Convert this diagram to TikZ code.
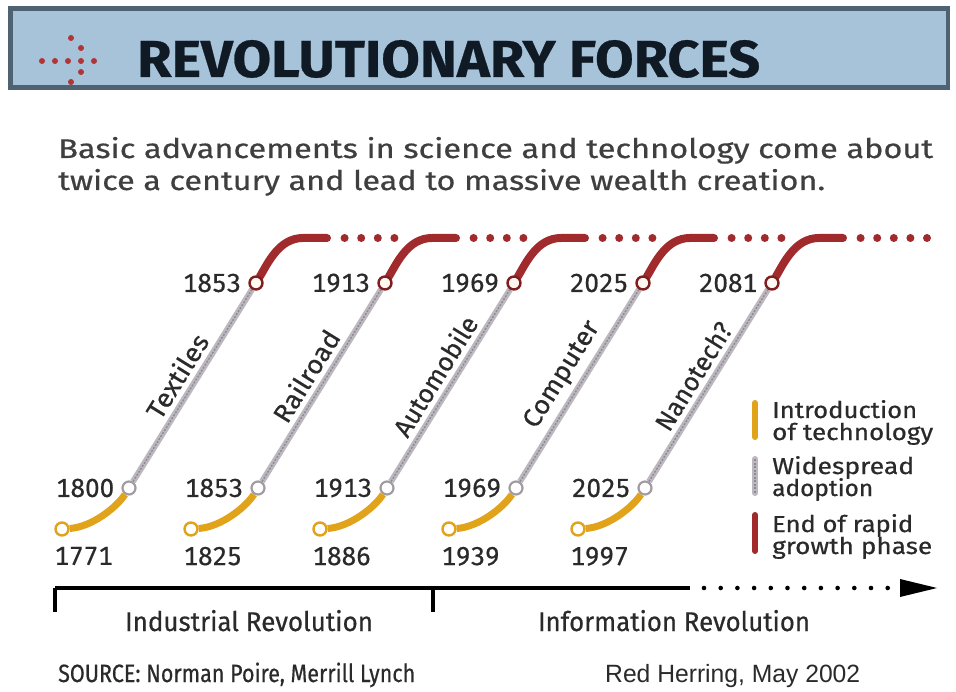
\documentclass[tikz,border=0pt]{standalone}
\usepackage{fontspec}
\setmainfont[Numbers={Monospaced,Lining}, FakeBold=0.5]{Fira Sans}
\newfontfamily\rhfont{Liberation Sans}
\usepackage{graphicx}
\usetikzlibrary{positioning}
\pgfdeclarelayer{back}
\pgfdeclarelayer{bg}
\pgfsetlayers{back,bg,main}
\definecolor{hdrfill}{HTML}{A7C3DA}
\definecolor{hdrline}{HTML}{4F6272}
\definecolor{ttl}{HTML}{101A24}
\definecolor{txt}{HTML}{2A2A2A}
\definecolor{ylw}{HTML}{E0A31A}
\definecolor{rd}{HTML}{A02A2C}
\definecolor{rdd}{HTML}{7E1E20}
\definecolor{gry}{HTML}{BDB8BF}
\definecolor{gryd}{HTML}{8E8A92}
\definecolor{icon}{HTML}{B03538}
\newsavebox\fxbox
\newlength\fxlen
\newcommand\fitx[2]{\sbox\fxbox{#2}\setlength\fxlen{\wd\fxbox}\pgfmathsetmacro\fxr{#1/\fxlen}\scalebox{\fxr}[1]{\usebox\fxbox}}
\tikzset{
  yr/.style={font=\fontsize{26}{26}\selectfont, text=txt, inner sep=0pt},
  lbl/.style={font=\fontsize{26}{26}\selectfont, text=txt, inner sep=0pt},
  leg/.style={font=\fontsize{23}{23}\selectfont, text=txt, inner sep=0pt, anchor=base west},
  tl/.style={font=\fontsize{27}{27}\selectfont, text=txt, inner sep=0pt, anchor=base},
  desc/.style={font=\fontsize{27}{27}\selectfont, text=txt!90!white, inner sep=0pt, anchor=base west},
  startc/.style={circle, draw=ylw, fill=white, line width=2.4pt, minimum size=13pt, inner sep=0pt},
  midc/.style={circle, draw=gry!85!black, fill=white, line width=2.2pt, minimum size=13pt, inner sep=0pt},
  topc/.style={circle, draw=rdd, fill=white!94!orange, line width=2.4pt, minimum size=13pt, inner sep=0pt},
  yline/.style={draw=ylw, line width=7pt},
  gline/.style={draw=gry, line width=6pt},
  gtex/.style={draw=gryd, line width=1.4pt, dash pattern=on 2pt off 1.5pt},
  rline/.style={draw=rd, line width=8pt, line cap=round},
  rdot/.style={circle, fill=rd, inner sep=0pt, minimum size=8pt},
  icondot/.style={circle, fill=icon, inner sep=0pt, minimum size=6pt},
  axdot/.style={circle, fill=black, inner sep=0pt, minimum size=4.6pt},
}
\begin{document}
\begin{tikzpicture}[x=1pt,y=-1pt]
\useasboundingbox (0,0) rectangle (956,692);
\begin{pgfonlayer}{back}
  \fill[white] (0,0) rectangle (956,692);
\end{pgfonlayer}

% header
\draw[hdrline, line width=4.5pt, fill=hdrfill] (10.5,8.5) rectangle (948,87.5);
\foreach \p/\q [count=\n] in {42/61,55/61,68/61,81/61,94/61,71/38,81/48,81/72,71/82}
  \node[icondot] (ic\n) at (\p,\q) {};
\node[anchor=base west, inner sep=0pt, font=\fontsize{52}{52}\selectfont\bfseries, text=ttl] (title) at (137,77) {\fitx{623}{REVOLUTIONARY FORCES}};

% description
\node[desc] (d1) at (58,158) {\fitx{875}{Basic advancements in science and technology come about}};
\node[desc] (d2) at (58,190) {\fitx{767}{twice a century and lead to massive wealth creation.}};

% series
\foreach \i/\ty/\by/\sy/\lab/\lw in {0/1853/1800/1771/Textiles/94, 1/1913/1853/1825/Railroad/103, 2/1969/1913/1886/Automobile/136, 3/2025/1969/1939/Computer/121, 4/2081/2025/1997/Nanotech?/122}{
  \pgfmathsetmacro\X{129*\i}
  \node[startc] (s\i) at ({62+\X},529) {};
  \node[midc] (b\i) at ({129+\X},488) {};
  \node[topc] (t\i) at ({256+\X},283) {};
  \coordinate (h\i) at ({303+\X},238);
  \coordinate (e\i) at ({327+\X},238);
  \node[yr, left=7pt of t\i] (ty\i) {\ty};
  \node[yr, left=7pt of b\i] (by\i) {\by};
  \path (s\i.west |- s\i.south) ++(0,10) coordinate (sa\i);
  \node[yr, anchor=north west] (sy\i) at (sa\i) {\sy};
  \begin{pgfonlayer}{bg}
    \draw[gline] (b\i) -- node[sloped, above=5pt, lbl] (lb\i) {\fitx{\lw}{\lab}} (t\i);
    \draw[gtex] (b\i) -- (t\i);
    \draw[yline] (s\i) .. controls +(30,-2) and +(-12,19) .. (b\i);
    \draw[rline] (t\i) .. controls +(12,-20) and +(-24,0) .. (h\i) -- (e\i);
  \end{pgfonlayer}
  \pgfmathtruncatemacro\nd{\i==4 ? 5 : 4}
  \foreach \k in {1,...,\nd}{
    \node[rdot] (d\i-\k) at ({256+\X+72+16.6*\k},238) {};
  }
}

% legend
\coordinate (ly1) at (755,403); \coordinate (ly2) at (755,437);
\coordinate (lg1) at (755,459); \coordinate (lg2) at (755,493);
\coordinate (lr1) at (755,515); \coordinate (lr2) at (755,551);
\draw[draw=ylw, line width=6pt, line cap=round] (ly1) -- (ly2);
\draw[draw=gry, line width=6pt, line cap=round] (lg1) -- (lg2);
\draw[gtex] (lg1) -- (lg2);
\draw[draw=rd, line width=6pt, line cap=round] (lr1) -- (lr2);
\node[leg] (l1a) at (772,418) {\fitx{145}{Introduction}};
\node[leg] (l1b) at (772,440) {\fitx{161}{of technology}};
\node[leg] (l2a) at (772,474) {\fitx{142}{Widespread}};
\node[leg] (l2b) at (772,496) {\fitx{101}{adoption}};
\node[leg] (l3a) at (772,532) {\fitx{141}{End of rapid}};
\node[leg] (l3b) at (772,554) {\fitx{160}{growth phase}};

% timeline
\coordinate (ax0) at (55,588);
\coordinate (axm) at (433,588);
\coordinate (axs) at (690,588);
\coordinate (axt) at (937,588);
\coordinate (tk0) at (55,612);
\coordinate (tkm) at (433,612);
\draw[line width=4pt] (ax0) -- (axs);
\draw[line width=4pt] (ax0) -- (tk0);
\draw[line width=4pt] (axm) -- (tkm);
\foreach \k in {0,...,11} \node[axdot] (ad\k) at ({704+16.7*\k},588) {};
\fill (axt) -- ++(-37,-9) -- ++(0,18) -- cycle;
\node[tl] (ir) at (249,631) {\fitx{248}{Industrial Revolution}};
\node[tl] (inr) at (674,631) {\fitx{272}{Information Revolution}};

% source
\node[anchor=base west, inner sep=0pt, font=\fontsize{25}{25}\selectfont, text=txt] (src) at (58,682) {\fitx{357}{SOURCE: Norman Poire, Merrill Lynch}};
\node[anchor=base west, inner sep=0pt, font=\rhfont\fontsize{25}{25}\selectfont, text=txt] (rh) at (605,682) {\fitx{255}{Red Herring, May 2002}};
\end{tikzpicture}
\end{document}
